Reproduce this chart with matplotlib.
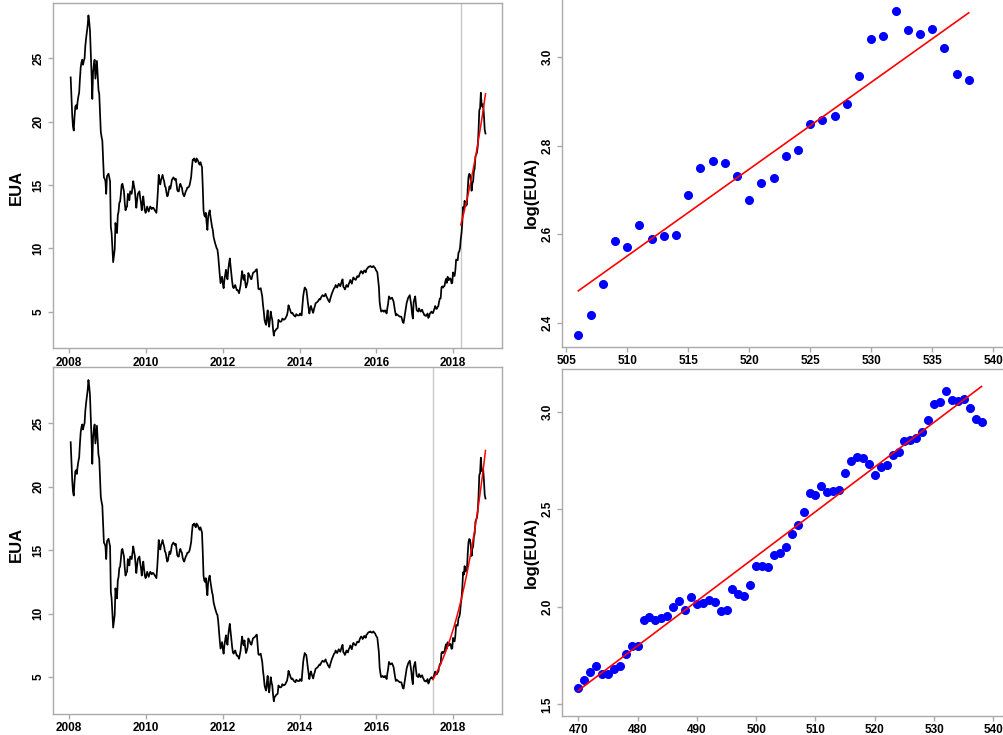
import numpy as np
import matplotlib
matplotlib.use("Agg")
import matplotlib.pyplot as plt

# weekly EUA price, weeks 1..469
eua_early = [
    23.5, 22.0, 20.5, 19.6, 19.3, 20.4, 21.2, 21.3, 21.0, 21.6,
    22.0, 22.3, 23.4, 24.3, 24.7, 24.9, 24.5, 24.8, 25.0, 26.0,
    26.6, 27.1, 27.6, 28.4, 27.9, 27.2, 25.6, 23.8, 21.8, 23.9,
    24.5, 24.9, 23.4, 24.1, 24.8, 23.6, 22.5, 22.2, 20.6, 19.2,
    18.8, 18.5, 17.0, 15.6, 15.5, 15.3, 14.3, 15.7, 15.8, 15.9,
    15.6, 15.3, 11.7, 11.2, 10.1, 8.9, 9.4, 9.9, 12.0, 11.5,
    11.2, 12.6, 12.9, 13.6, 13.7, 14.3, 15.0, 15.1, 14.8, 14.5,
    13.6, 13.0, 13.2, 13.3, 14.3, 14.0, 13.8, 14.5, 14.4, 14.3,
    14.8, 15.3, 14.9, 14.6, 13.9, 13.2, 13.8, 14.3, 14.4, 14.5,
    14.0, 13.6, 13.0, 13.6, 14.1, 13.5, 13.0, 12.8, 13.0, 13.3,
    13.1, 12.9, 13.1, 13.3, 13.2, 13.1, 13.2, 13.2, 13.1, 13.0,
    12.9, 12.8, 13.6, 14.6, 15.8, 15.3, 15.05, 15.4, 15.6, 15.8,
    15.5, 15.3, 14.9, 14.8, 14.4, 14.1, 14.2, 14.6, 14.9, 14.7,
    15.0, 15.4, 15.5, 15.6, 15.5, 15.4, 15.5, 15.1, 14.6, 14.5,
    14.5, 14.9, 15.1, 14.9, 14.8, 14.4, 14.2, 14.1, 14.3, 14.5,
    14.6, 14.8, 14.8, 14.85, 15.0, 15.3, 15.65, 16.4, 17.0, 17.0,
    17.1, 16.9, 16.8, 17.1, 17.0, 16.9, 16.7, 16.6, 16.8, 16.6,
    16.4, 14.85, 13.0, 12.6, 12.5, 12.8, 12.0, 11.45, 12.5, 12.8,
    13.0, 12.5, 12.1, 11.7, 11.45, 10.9, 10.65, 10.4, 10.2, 10.0,
    9.9, 9.4, 8.6, 7.9, 7.25, 7.5, 7.76, 7.2, 6.85, 7.5,
    7.9, 8.3, 7.8, 7.55, 8.3, 8.8, 9.2, 8.6, 8.05, 7.4,
    6.95, 6.85, 7.0, 7.1, 6.9, 6.7, 6.7, 6.6, 6.45, 6.8,
    7.1, 7.7, 8.2, 7.7, 7.5, 7.9, 7.3, 6.9, 7.1, 7.35,
    8.05, 7.9, 7.8, 7.6, 7.55, 7.8, 8.05, 8.1, 8.15, 8.2,
    8.3, 8.35, 7.6, 6.8, 6.75, 6.8, 6.85, 6.5, 6.2, 5.5,
    5.0, 4.35, 4.1, 3.95, 4.6, 5.1, 4.2, 3.8, 4.4, 5.0,
    4.6, 4.35, 3.6, 3.1, 3.45, 3.5, 3.6, 3.65, 3.7, 4.35,
    4.25, 4.2, 4.2, 4.25, 4.45, 4.4, 4.35, 4.4, 4.45, 4.6,
    4.7, 5.0, 5.5, 5.3, 5.15, 4.95, 4.85, 4.9, 4.8, 4.7,
    4.65, 4.6, 4.8, 4.75, 4.7, 4.7, 4.7, 4.85, 4.75, 4.7,
    5.4, 6.2, 6.6, 6.9, 6.8, 6.75, 6.3, 5.75, 5.3, 4.85,
    5.2, 5.45, 5.25, 5.05, 4.9, 5.2, 5.4, 5.65, 5.7, 5.75,
    5.8, 5.9, 6.0, 5.95, 6.1, 6.2, 6.3, 6.25, 6.2, 6.3,
    6.4, 6.2, 6.1, 5.95, 5.85, 5.75, 6.0, 6.2, 6.4, 6.55,
    6.7, 6.85, 6.9, 7.1, 7.0, 6.9, 7.05, 7.2, 7.1, 7.0,
    7.2, 7.4, 7.55, 6.95, 6.9, 6.75, 6.9, 7.1, 7.0, 6.95,
    7.2, 7.3, 7.5, 7.35, 7.2, 7.5, 7.7, 7.6, 7.55, 7.5,
    7.65, 7.8, 7.75, 7.75, 7.95, 8.1, 8.2, 8.15, 8.0, 8.1,
    8.25, 8.2, 8.1, 8.35, 8.4, 8.5, 8.55, 8.55, 8.6, 8.55,
    8.5, 8.55, 8.6, 8.5, 8.45, 8.3, 8.2, 8.1, 7.5, 6.95,
    5.75, 5.3, 5.0, 5.05, 5.1, 5.0, 5.0, 5.1, 5.0, 4.85,
    5.3, 5.65, 6.2, 6.1, 6.0, 6.05, 6.1, 5.95, 5.8, 5.4,
    5.0, 4.7, 4.8, 4.75, 4.7, 4.65, 4.6, 4.6, 4.6, 4.4,
    4.15, 4.1, 4.5, 4.85, 5.3, 5.7, 5.9, 6.1, 6.2, 6.3,
    5.9, 5.45, 4.8, 4.45, 5.75, 6.0, 6.2, 5.6, 5.1, 5.05,
    5.0, 5.25, 5.1, 5.0, 5.1, 5.15, 4.95, 4.85, 4.7, 4.7,
    4.65, 4.75, 4.85, 4.5, 4.6, 4.85, 4.9, 5.0, 4.9,
]

# log(EUA), weeks 470..538
log_eua_recent = [
    1.585, 1.624, 1.663, 1.694, 1.653, 1.653, 1.679, 1.694, 1.759, 1.797,
    1.800, 1.932, 1.945, 1.930, 1.944, 1.950, 1.998, 2.027, 1.983, 2.048,
    2.012, 2.017, 2.032, 2.026, 1.978, 1.983, 2.091, 2.063, 2.056, 2.113,
    2.210, 2.207, 2.203, 2.265, 2.277, 2.304, 2.372, 2.417, 2.488, 2.585,
    2.571, 2.621, 2.589, 2.595, 2.599, 2.688, 2.749, 2.765, 2.761, 2.732,
    2.677, 2.716, 2.727, 2.776, 2.791, 2.848, 2.857, 2.866, 2.894, 2.958,
    3.041, 3.047, 3.104, 3.062, 3.053, 3.063, 3.020, 2.963, 2.948,
]

first_date = 2008.04
last_date = 2018.84
fit_start_top = 506
fit_start_bottom = 470

year_ticks = [2008, 2010, 2012, 2014, 2016, 2018]
eua_ticks = [5, 10, 15, 20, 25]
top_xticks = [505, 510, 515, 520, 525, 530, 535, 540]
top_yticks = [2.4, 2.6, 2.8, 3.0]
bottom_xticks = [470, 480, 490, 500, 510, 520, 530, 540]
bottom_yticks = [1.5, 2.0, 2.5, 3.0]

W, H = 1004, 735
FRAME = "#aaaaaa"

plt.rcParams["font.family"] = ["Liberation Sans", "DejaVu Sans"]
plt.rcParams["font.weight"] = "bold"

eua = np.concatenate([eua_early, np.exp(log_eua_recent)])
week = np.arange(1, len(eua) + 1)
dates = np.linspace(first_date, last_date, len(eua))


def px_axes(fig, left, top, right, bottom):
    """Axes box given in pixels from the top-left corner."""
    return fig.add_axes([left / W, 1 - bottom / H, (right - left) / W, (bottom - top) / H])


def style(ax):
    for s in ax.spines.values():
        s.set_color(FRAME)
        s.set_linewidth(1.0)
    ax.tick_params(colors=FRAME, labelcolor="black", length=3.5, width=1.0,
                   labelsize=8.5, pad=2.5)
    ax.tick_params(axis="y", labelrotation=90)
    for lab in ax.get_yticklabels():
        lab.set_va("center")
        lab.set_fontweight("bold")
    for lab in ax.get_xticklabels():
        lab.set_fontweight("bold")


def fit(start):
    m = week >= start
    b, a = np.polyfit(week[m], np.log(eua[m]), 1)
    return m, a + b * week[m]


def draw_series(ax, start):
    m, fitted = fit(start)
    ax.axvline(dates[m][0], color="#c8c8c8", lw=1.0)
    ax.plot(dates, eua, color="black", lw=1.25)
    ax.plot(dates[m], np.exp(fitted), color="red", lw=1.1)
    ax.set_xlim(2007.58, 2019.27)
    ax.set_ylim(2.1, 29.4)
    ax.set_xticks(year_ticks)
    ax.set_yticks(eua_ticks)
    style(ax)


def draw_log(ax, start, xlim, ylim, xticks, yticks):
    m, fitted = fit(start)
    ax.plot(week[m], np.log(eua[m]), "o", color="blue", ms=5.5)
    ax.plot(week[m], fitted, color="red", lw=1.2)
    ax.set_xlim(*xlim)
    ax.set_ylim(*ylim)
    ax.set_xticks(xticks)
    ax.set_yticks(yticks)
    style(ax)


fig = plt.figure(figsize=(W / 100, H / 100), dpi=100)

ax1 = px_axes(fig, 53, 2.7, 502, 348.3)
draw_series(ax1, fit_start_top)
ax2 = px_axes(fig, 562, -3, 1040, 346.7)
draw_log(ax2, fit_start_top, (504.66, 543.84), (2.3457, 3.136), top_xticks, top_yticks)
ax3 = px_axes(fig, 53, 367.3, 502, 714)
draw_series(ax3, fit_start_bottom)
ax4 = px_axes(fig, 562, 369.3, 1040, 716)
draw_log(ax4, fit_start_bottom, (467.25, 547.86), (1.44, 3.217), bottom_xticks, bottom_yticks)

for x, y, text in [(16, 187, "EUA"), (16, 544, "EUA"),
                   (531, 192, "log(EUA)"), (531, 552, "log(EUA)")]:
    fig.text(x / W, 1 - y / H, text, rotation=90, ha="center", va="center",
             fontsize=12, fontweight="bold")

fig.savefig("out.png", dpi=100)
